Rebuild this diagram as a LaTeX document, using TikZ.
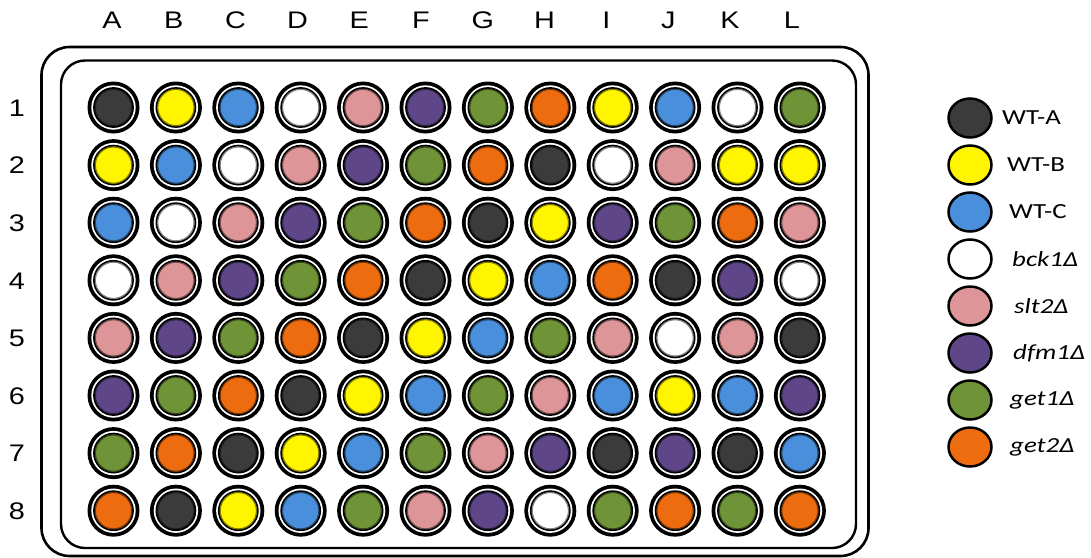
\documentclass[tikz,border=0pt]{standalone}
\usepackage{fontspec}
\setmainfont{Liberation Sans}
\newfontfamily\legfont{Carlito}
\definecolor{cK}{HTML}{3B3B3B}
\definecolor{cY}{HTML}{FFF500}
\definecolor{cB}{HTML}{4A8FDB}
\definecolor{cW}{HTML}{FFFFFF}
\definecolor{cP}{HTML}{DD9597}
\definecolor{cU}{HTML}{5E4689}
\definecolor{cG}{HTML}{6F9437}
\definecolor{cO}{HTML}{EE6C10}
\tikzset{
  platebox/.style={line width=2.6pt},
  axislabel/.style={inner sep=0pt, font=\fontsize{24}{24}\selectfont},
  legendtext/.style={inner sep=0pt, anchor=west, font=\legfont\fontsize{21.5}{21.5}\selectfont},
  legendspot/.style={line width=2.5pt, draw=black}
}
\newcommand{\wx}[1]{\scalebox{1.2}[1]{#1}}
\newcommand{\lx}[1]{\scalebox{1.25}[1]{#1}}
\begin{document}
\begin{tikzpicture}[x=1pt,y=-1pt]
\useasboundingbox (0,0) rectangle (1091,557);
\fill[white] (0,0) rectangle (1091,557);
% plate outlines
\draw[platebox, rounded corners=28pt] (41.5,47) rectangle (868.5,556);
\draw[platebox, line width=2.4pt, rounded corners=24pt] (61,60.5) rectangle (856,548);
% column labels
\foreach \L [count=\i] in {A,B,C,D,E,F,G,H,I,J,K,L} {
  \node[axislabel] (col-\L) at ({112+61.8*(\i-1)},20) {\wx{\L}};
}
% row labels
\foreach \r in {1,...,8} {
  \node[axislabel] (row-\r) at (17,{108+57.6*(\r-1)}) {\wx{\r}};
}
% wells
\foreach \row [count=\r] in {
  {K,Y,B,W,P,U,G,O,Y,B,W,G},
  {Y,B,W,P,U,G,O,K,W,P,Y,Y},
  {B,W,P,U,G,O,K,Y,U,G,O,P},
  {W,P,U,G,O,K,Y,B,O,K,U,W},
  {P,U,G,O,K,Y,B,G,P,W,P,K},
  {U,G,O,K,Y,B,G,P,B,Y,B,U},
  {G,O,K,Y,B,G,P,U,K,U,K,B},
  {O,K,Y,B,G,P,U,W,G,O,G,O}} {
  \foreach \c [count=\i] in \row {
    \coordinate (w-\r-\i) at ({113.5+62.4*(\i-1)},{107.5+57.6*(\r-1)});
    \fill[black] (w-\r-\i) circle[radius=26];
    \fill[white] (w-\r-\i) circle[radius=22.2];
    \fill[black] (w-\r-\i) circle[radius=20.4];
    \filldraw[fill=c\c, draw=c\c!50!black, line width=1.2pt] (w-\r-\i) circle[radius=18.2];
  }
}
% legend
\foreach \c/\t/\tx [count=\k] in {
  K/{WT-A}/1002,
  Y/{WT-B}/1007,
  B/{WT-C}/1009,
  W/{\itshape bck1Δ}/1012,
  P/{\itshape slt2Δ}/1014,
  U/{\itshape dfm1Δ}/1013,
  G/{\itshape get1Δ}/1010,
  O/{\itshape get2Δ}/1010} {
  \filldraw[legendspot, fill=c\c] (970,{118+47*(\k-1)}) ellipse[x radius=21.5, y radius=19.5];
  \node[legendtext] (leg-\k) at (\tx,{118+47*(\k-1)}) {\lx{\t}};
}
\end{tikzpicture}
\end{document}
